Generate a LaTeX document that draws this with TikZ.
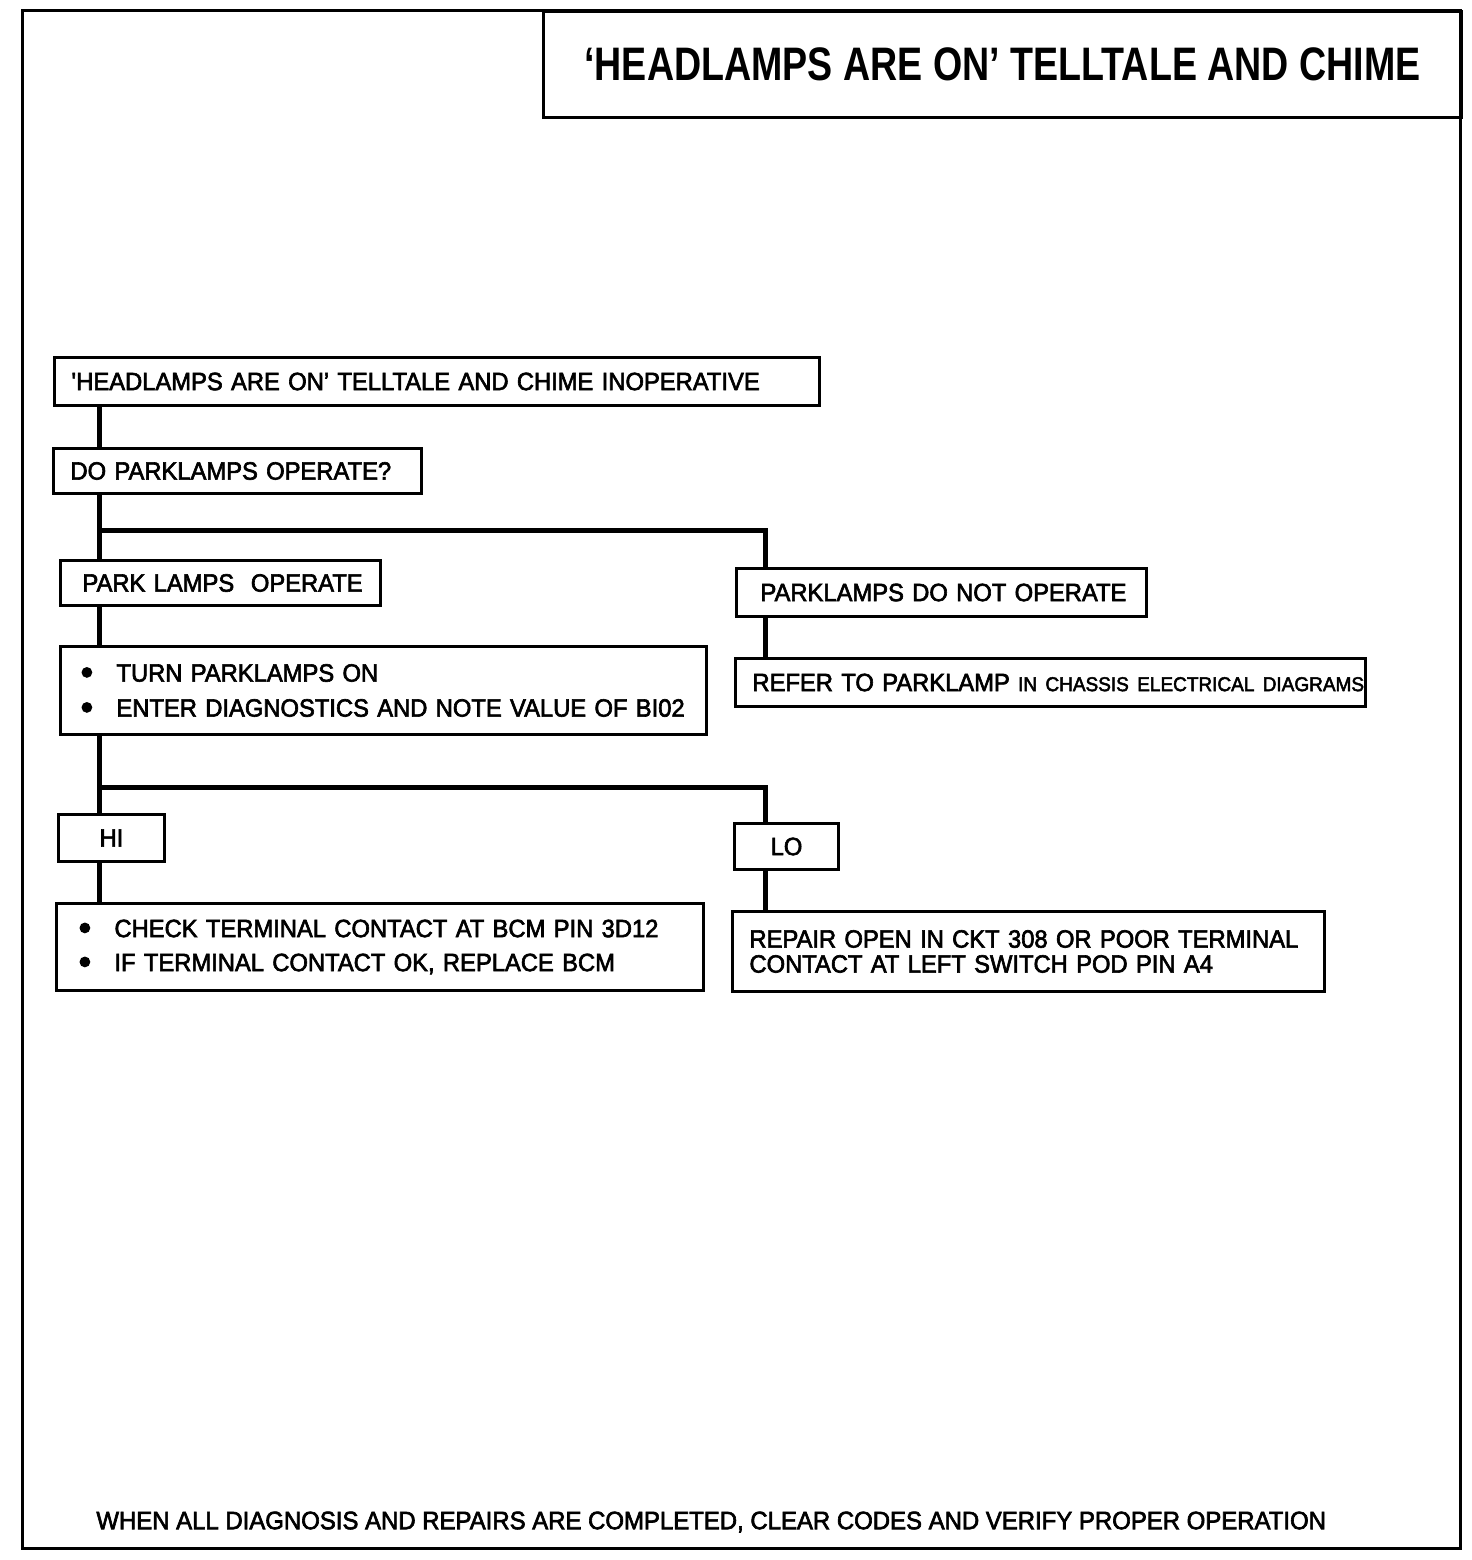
\documentclass[tikz,border=0pt]{standalone}
\usepackage{fontspec}
\setmainfont{Liberation Sans}[FakeStretch=0.95,FakeBold=2.5]
\newfontfamily\titlefont{Liberation Sans}[FakeStretch=0.8]
\usetikzlibrary{positioning,calc}

\newcommand{\dotline}[1]{\mbox{\makebox[17.5pt][l]{\tikz[baseline=-4.6pt]\fill (0,0) circle (2.7pt);}#1}}

\begin{document}
\begin{tikzpicture}
      [x=0.5pt,y=-0.5pt,
       box/.style={draw=black,line width=1.5pt,anchor=north west,align=left,inner ysep=0pt,
                   font=\fontsize{12.5}{15}\selectfont},
       tag/.style={box,align=center,inner sep=0pt},
       link/.style={line width=2.5pt}]
      \useasboundingbox (0,0) rectangle (1472,1560);
      \draw[line width=1.5pt] (22,10) rectangle (1460,1548);

      \node[tag,minimum width=459pt,minimum height=53pt,
            font=\titlefont\bfseries\fontsize{23.5}{28}\selectfont] (title) at (542,10)
            {‘HEADLAMPS ARE ON’ TELLTALE AND CHIME};

      \node[box,inner xsep=8.5pt,text width=365.5pt,minimum height=24pt] (start) at (53,356)
            {\mbox{\textquotesingle HEADLAMPS ARE ON’ TELLTALE AND CHIME INOPERATIVE}};
      \node[box,inner xsep=8.5pt,text width=167pt,minimum height=22.5pt] (ask) at (52,447)
            {\mbox{DO PARKLAMPS OPERATE?}};
      \node[box,inner xsep=11pt,text width=138pt,minimum height=22.5pt] (ok) at (59,559)
            {\mbox{PARK LAMPS\ \ OPERATE}};
      \node[box,inner xsep=12pt,text width=181pt,minimum height=24pt] (notok) at (735,567)
            {\mbox{PARKLAMPS DO NOT OPERATE}};
      \node[box,inner xsep=8.5pt,text width=298pt,minimum height=24pt] (refer) at (734,657)
            {\mbox{REFER TO PARKLAMP {\fontsize{10}{12}\selectfont IN CHASSIS ELECTRICAL DIAGRAMS}}};
      \node[box,inner xsep=10.5pt,text width=302pt,minimum height=44pt,
            font=\fontsize{12.5}{17.5}\selectfont] (turn) at (59,645)
            {\dotline{TURN PARKLAMPS ON}\\ \dotline{ENTER DIAGNOSTICS AND NOTE VALUE OF BI02}};
      \node[tag,minimum width=53pt,minimum height=23.5pt] (hi) at (57,813) {HI};
      \node[tag,minimum width=52pt,minimum height=23pt] (lo) at (733,822) {LO};
      \node[box,inner xsep=11.5pt,text width=300.5pt,minimum height=43.5pt,
            font=\fontsize{12.5}{17}\selectfont] (check) at (55,902)
            {\dotline{CHECK TERMINAL CONTACT AT BCM PIN 3D12}\\ \dotline{IF TERMINAL CONTACT OK, REPLACE BCM}};
      \node[box,inner xsep=8.5pt,text width=279pt,minimum height=40pt,
            font=\fontsize{12.5}{12.5}\selectfont] (repair) at (731,910)
            {\mbox{REPAIR OPEN IN CKT 308 OR POOR TERMINAL}\\ \mbox{CONTACT AT LEFT SWITCH POD PIN A4}};

      \node[anchor=west,inner sep=0pt,font=\fontsize{12.6}{15}\selectfont] (note) at (96,1522)
            {WHEN ALL DIAGNOSIS AND REPAIRS ARE COMPLETED, CLEAR CODES AND VERIFY PROPER OPERATION};

      \coordinate (colA) at (99,0);
      \coordinate (colB) at (765,0);
      \coordinate (fork1) at (0,530);
      \coordinate (fork2) at (0,787);

      \draw[link] (start.south -| colA) -- (ask.north -| colA);
      \draw[link] (ask.south -| colA) -- (ok.north -| colA);
      \draw[link] (fork1 -| colA) -| (notok.north -| colB);
      \draw[link] (notok.south -| colB) -- (refer.north -| colB);
      \draw[link] (ok.south -| colA) -- (turn.north -| colA);
      \draw[link] (turn.south -| colA) -- (hi.north -| colA);
      \draw[link] (fork2 -| colA) -| (lo.north -| colB);
      \draw[link] (hi.south -| colA) -- (check.north -| colA);
      \draw[link] (lo.south -| colB) -- (repair.north -| colB);
    \end{tikzpicture}
\end{document}
